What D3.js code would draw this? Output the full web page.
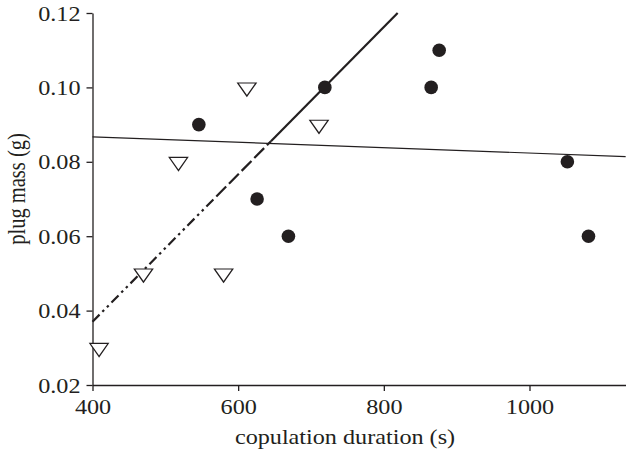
<!DOCTYPE html>
<html><head><meta charset="utf-8">
<script src="https://cdn.jsdelivr.net/npm/d3@7"></script>
<style>body{margin:0;background:#fff}svg{display:block}</style>
</head><body>
<script>
// Data
const circleX = [546, 626, 669, 719, 865, 876, 1052, 1081];
const circleY = [0.090, 0.070, 0.060, 0.100, 0.100, 0.110, 0.080, 0.060];
const triX = [409, 470, 518, 580, 612, 711];
const triY = [0.030, 0.050, 0.080, 0.050, 0.100, 0.090];
const solidFitX = [400, 1132];
const solidFitY = [0.0867, 0.0814];
const dashFitX = [400, 819];
const dashFitY = [0.0370, 0.1200];
const xTicks = [400, 600, 800, 1000];
const yTicks = [0.02, 0.04, 0.06, 0.08, 0.10, 0.12];

const W = 626, H = 451;
const svg = d3.select("body").append("svg").attr("width", W).attr("height", H);
const x = d3.scaleLinear().domain([400, 1132.5]).range([92.5, 626]);
const y = d3.scaleLinear().domain([0.02, 0.12]).range([385, 13]);
const FONT = "'Liberation Serif','Times New Roman',serif";
const SX = 1.18;

// axes
const gx = svg.append("g").attr("transform", "translate(0,385)")
  .call(d3.axisBottom(x).tickValues(xTicks).tickSize(6).tickSizeOuter(0).tickFormat(d3.format("d")));
const gy = svg.append("g").attr("transform", "translate(92.5,0)")
  .call(d3.axisLeft(y).tickValues(yTicks).tickSize(6).tickSizeOuter(0).tickFormat(d3.format(".2f")));
[gx, gy].forEach(g => {
  g.select(".domain").attr("stroke", "#231f20").attr("stroke-width", 1.3);
  g.selectAll(".tick line").attr("stroke", "#231f20").attr("stroke-width", 1.3);
  g.selectAll(".tick text").attr("fill", "#231f20").style("font-family", FONT).style("font-size", "20.5px");
});
gx.selectAll(".tick text").attr("y", 0).attr("dy", 0)
  .attr("transform", "translate(0,29) scale(" + SX + ",1)");
gy.selectAll(".tick text").attr("x", 0).attr("dy", 0)
  .attr("transform", "translate(-12,7) scale(" + SX + ",1)");

// axis titles
svg.append("text").attr("transform", "translate(345,444) scale(" + SX + ",1)")
  .attr("text-anchor", "middle").style("font-family", FONT).style("font-size", "20.5px")
  .attr("fill", "#231f20").text("copulation duration (s)");
svg.append("text").attr("transform", "translate(25,189) rotate(-90) scale(1,1.25)")
  .attr("text-anchor", "middle").style("font-family", FONT).style("font-size", "20.5px")
  .attr("fill", "#231f20").text("plug mass (g)");

// fit lines
const line = d3.line().x(d => x(d[0])).y(d => y(d[1]));
svg.append("path").datum(d3.zip(solidFitX, solidFitY)).attr("d", line)
  .attr("fill", "none").attr("stroke", "#231f20").attr("stroke-width", 1.2);

const dashAt = xv => dashFitY[0] + (dashFitY[1] - dashFitY[0]) * (xv - dashFitX[0]) / (dashFitX[1] - dashFitX[0]);
const segs = [[dashFitX[0], 570, "10,4,2.5,4,2.5,4"], [570, 645, "14,4"], [645, dashFitX[1], null]];
segs.forEach(s => {
  const p = svg.append("path").datum([[s[0], dashAt(s[0])], [s[1], dashAt(s[1])]]).attr("d", line)
    .attr("fill", "none").attr("stroke", "#231f20").attr("stroke-width", 2.2);
  if (s[2]) p.attr("stroke-dasharray", s[2]);
});

// points
svg.selectAll("circle.pt").data(d3.zip(circleX, circleY)).enter().append("circle")
  .attr("cx", d => x(d[0])).attr("cy", d => y(d[1])).attr("r", 6.8).attr("fill", "#231f20");
const tri = d3.symbol().type(d3.symbolTriangle).size(110);
svg.selectAll("path.tri").data(d3.zip(triX, triY)).enter().append("path")
  .attr("d", tri)
  .attr("transform", d => "translate(" + x(d[0]) + "," + y(d[1]) + ") rotate(180) scale(1.15,0.95)")
  .attr("fill", "#fff").attr("stroke", "#231f20").attr("stroke-width", 1.2);
</script>
</body></html>
